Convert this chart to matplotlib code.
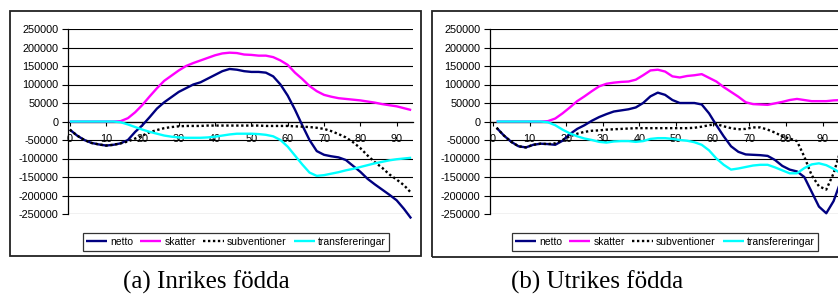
import matplotlib
matplotlib.use("Agg")
import matplotlib.pyplot as plt
from matplotlib.patches import Rectangle

# ── data ─────────────────────────────────────────────────────────────────────
ages_a = list(range(0, 95, 2))
netto_a = [-22000, -38000, -50000, -58000, -62000, -65000, -63000, -59000,
           -50000, -28000, -10000, 12000, 35000, 52000, 66000, 80000,
           90000, 100000, 106000, 116000, 126000, 136000, 142000, 140000,
           136000, 134000, 134000, 132000, 122000, 100000, 70000, 32000,
           -10000, -50000, -80000, -90000, -94000, -97000, -104000, -120000,
           -136000, -155000, -170000, -184000, -198000, -213000, -236000, -262000]
skatter_a = [0, 0, 0, 0, 0, 0, 0, 1000,
             9000, 25000, 45000, 68000, 90000, 110000, 124000, 138000,
             150000, 158000, 165000, 172000, 179000, 184000, 186000, 185000,
             181000, 180000, 178000, 178000, 174000, 165000, 153000, 132000,
             115000, 96000, 82000, 72000, 67000, 63000, 61000, 59000,
             57000, 54000, 51000, 47000, 44000, 41000, 36000, 31000]
subv_a = [-22000, -38000, -50000, -58000, -62000, -65000, -63000, -59000,
          -54000, -46000, -38000, -29000, -23000, -18000, -15000, -13000,
          -12000, -12000, -12000, -11000, -11000, -11000, -11000, -11000,
          -11000, -11000, -11000, -12000, -12000, -12000, -12000, -13000,
          -14000, -15000, -17000, -20000, -26000, -34000, -43000, -56000,
          -72000, -92000, -110000, -125000, -143000, -157000, -172000, -193000]
transf_a = [0, 0, 0, 0, 0, 0, 0, -2000,
            -8000, -15000, -22000, -28000, -33000, -38000, -41000, -43000,
            -44000, -44000, -44000, -43000, -41000, -38000, -35000, -33000,
            -33000, -33000, -34000, -36000, -40000, -50000, -68000, -92000,
            -116000, -138000, -147000, -145000, -141000, -137000, -132000, -128000,
            -123000, -118000, -113000, -109000, -105000, -102000, -100000, -98000]

ages_b = list(range(1, 96, 2))
netto_b = [-17000, -38000, -55000, -67000, -70000, -63000, -60000, -61000,
           -63000, -52000, -34000, -20000, -10000, 2000, 12000, 20000,
           27000, 30000, 33000, 38000, 50000, 68000, 78000, 72000,
           58000, 50000, 50000, 50000, 46000, 22000, -10000, -40000,
           -67000, -82000, -89000, -90000, -91000, -93000, -104000, -120000,
           -130000, -135000, -150000, -190000, -230000, -248000, -215000, -160000]
skatter_b = [0, 0, 0, 0, 0, 0, 0, 1000,
             8000, 22000, 38000, 55000, 68000, 82000, 95000, 102000,
             105000, 107000, 108000, 113000, 125000, 138000, 140000, 135000,
             122000, 119000, 123000, 125000, 128000, 118000, 108000, 93000,
             80000, 67000, 52000, 47000, 46000, 45000, 49000, 53000,
             58000, 61000, 58000, 55000, 55000, 55000, 57000, 58000]
subv_b = [-17000, -38000, -55000, -67000, -70000, -63000, -60000, -61000,
          -59000, -50000, -40000, -33000, -28000, -25000, -24000, -22000,
          -21000, -20000, -19000, -18000, -18000, -18000, -18000, -18000,
          -18000, -18000, -18000, -17000, -14000, -10000, -7000, -13000,
          -18000, -21000, -20000, -16000, -16000, -22000, -30000, -40000,
          -46000, -53000, -95000, -145000, -175000, -184000, -140000, -75000]
transf_b = [0, 0, 0, 0, 0, 0, 0, -2000,
            -10000, -22000, -32000, -40000, -46000, -50000, -55000, -57000,
            -54000, -53000, -53000, -55000, -53000, -47000, -45000, -45000,
            -47000, -50000, -52000, -56000, -63000, -78000, -100000, -117000,
            -130000, -127000, -123000, -119000, -117000, -117000, -124000, -132000,
            -140000, -140000, -126000, -116000, -113000, -118000, -128000, -140000]

labels = ["netto", "skatter", "subventioner", "transfereringar"]
captions = ["(a) Inrikes födda", "(b) Utrikes födda"]
xticks = [0, 10, 20, 30, 40, 50, 60, 70, 80, 90]
yticks = list(range(-250000, 250001, 50000))

# ── figure ───────────────────────────────────────────────────────────────────
W, H = 838, 298
fig = plt.figure(figsize=(W / 100, H / 100), dpi=100)
fig.patch.set_facecolor("white")
plt.rcParams["font.family"] = ["Liberation Sans", "DejaVu Sans"]


def px(x0, y0, x1, y1):
    """pixel box (top-left origin) -> figure fraction rect"""
    return [x0 / W, 1 - y1 / H, (x1 - x0) / W, (y1 - y0) / H]


panels = [
    dict(frame=(10, 11, 421, 256), axes=(68, 29, 413, 214), xlim=(-0.5, 94.5),
         legend=(236, 242), caption_x=206,
         ages=ages_a, series=[netto_a, skatter_a, subv_a, transf_a]),
    dict(frame=(432, 11, 860, 257), axes=(490, 29, 838, 214), xlim=(-0.8, 94.2),
         legend=(665, 242), caption_x=597,
         ages=ages_b, series=[netto_b, skatter_b, subv_b, transf_b]),
]

styles = [
    dict(color="#000080", ls="-"),
    dict(color="#ff00ff", ls="-"),
    dict(color="black", ls=(0, (1, 1.1))),
    dict(color="#00ffff", ls="-"),
]
LW = 1.7

for i, p in enumerate(panels):
    # outer chart frame
    x0, y0, x1, y1 = p["frame"]
    r = px(x0, y0, x1, y1)
    fig.patches.append(Rectangle((r[0], r[1]), r[2], r[3], transform=fig.transFigure,
                                 fill=False, edgecolor="#222222", lw=1.3))

    ax = fig.add_axes(px(*p["axes"]))
    ax.set_facecolor("none")
    ax.set_xlim(*p["xlim"])
    ax.set_ylim(-250000, 250000)

    for v in yticks:
        ax.axhline(v, color="black", lw=0.8, zorder=1)

    handles = []
    for vals, st, lab in zip(p["series"], styles, labels):
        (h,) = ax.plot(p["ages"], vals, color=st["color"], lw=LW, ls=st["ls"],
                       label=lab, clip_on=False, zorder=3,
                       solid_capstyle="butt", dash_capstyle="butt")
        handles.append(h)

    for s in ["top", "right"]:
        ax.spines[s].set_visible(False)
    ax.spines["left"].set_linewidth(0.9)
    ax.spines["bottom"].set_position(("data", 0))
    ax.spines["bottom"].set_linewidth(0.9)

    ax.set_yticks(yticks)
    ax.set_yticklabels([str(v) for v in yticks])
    ax.set_xticks(xticks)
    ax.set_xticklabels([str(v) for v in xticks])
    ax.tick_params(axis="y", direction="out", length=4, width=0.8, pad=3,
                   labelsize=7.8, colors="black")
    ax.tick_params(axis="x", direction="out", length=3, width=0.8, pad=6,
                   labelsize=7.8, colors="black")

    lx, ly = p["legend"]
    leg = fig.legend(handles, labels, loc="center", ncol=4,
                     bbox_to_anchor=(lx / W, 1 - ly / H), fontsize=7.5,
                     frameon=True, fancybox=False, shadow=False,
                     handlelength=2.0, handletextpad=0.3, columnspacing=0.7,
                     borderpad=0.35, borderaxespad=0)
    leg.get_frame().set_edgecolor("black")
    leg.get_frame().set_linewidth(0.9)

    fig.text(p["caption_x"] / W, 1 - 282 / H, captions[i],
             ha="center", va="center", fontsize=18, family="Liberation Serif")

fig.savefig("out.png", dpi=100, facecolor=fig.get_facecolor())
